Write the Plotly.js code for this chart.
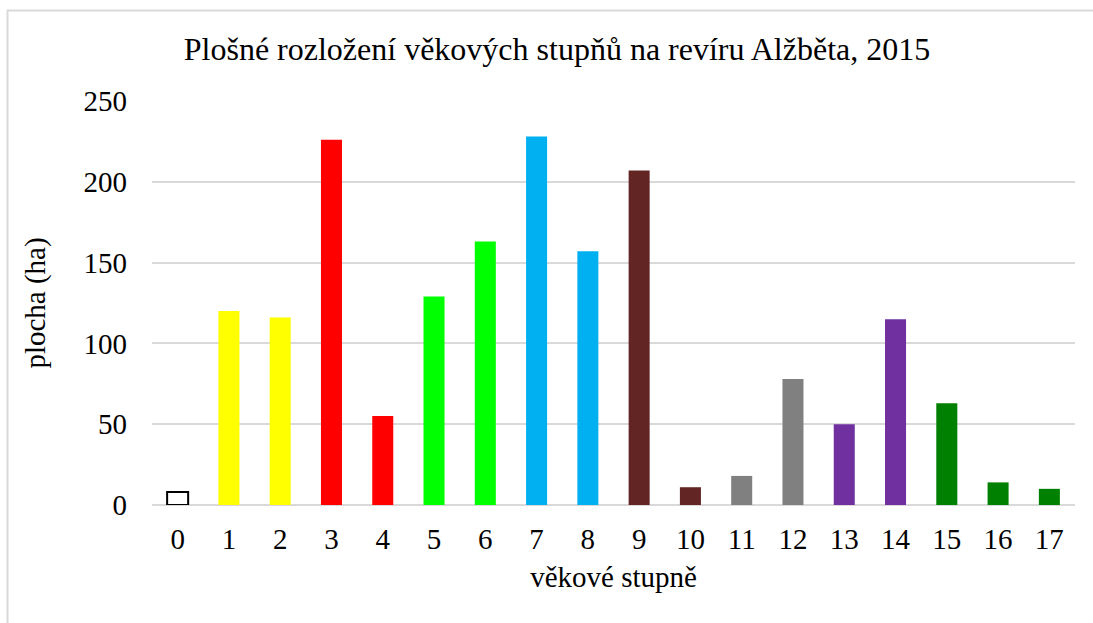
<!DOCTYPE html>
<html>
<head>
<meta charset="utf-8">
<script src="https://cdn.plot.ly/plotly-3.0.1.min.js"></script>
<style>html,body{margin:0;padding:0;background:#fff;}#chart{width:1093px;height:623px;}</style>
</head>
<body>
<div id="chart"></div>
<script>
const categories = ["0","1","2","3","4","5","6","7","8","9","10","11","12","13","14","15","16","17"];
const values = [8, 120, 116, 226, 55, 129, 163, 228, 157, 207, 11, 18, 78, 50, 115, 63, 14, 10];
const barColors = ["#FFFFFF","#FFFF00","#FFFF00","#FF0000","#FF0000","#00FF00","#00FF00","#00B0F0","#00B0F0","#632523","#632523","#808080","#808080","#7030A0","#7030A0","#008000","#008000","#008000"];
const outlineColors = ["#000000","#FFFF00","#FFFF00","#FF0000","#FF0000","#00FF00","#00FF00","#00B0F0","#00B0F0","#632523","#632523","#808080","#808080","#7030A0","#7030A0","#008000","#008000","#008000"];
const outlineWidths = [2,0,0,0,0,0,0,0,0,0,0,0,0,0,0,0,0,0];
const titleText = "Plošné rozložení věkových stupňů na revíru Alžběta, 2015";
const xTitle = "věkové stupně";
const yTitle = "plocha (ha)";

const font = "Liberation Serif";

const trace = {
  type: "bar",
  x: categories,
  y: values,
  marker: {color: barColors, line: {color: outlineColors, width: outlineWidths}},
  hoverinfo: "x+y"
};

const ml = 152, mr = 18, mt = 101, mb = 118;
const pw = 1093 - ml - mr, ph = 623 - mt - mb;

const layout = {
  width: 1093, height: 623,
  margin: {l: ml, r: mr, t: mt, b: mb, pad: 0},
  paper_bgcolor: "#ffffff",
  plot_bgcolor: "#ffffff",
  font: {family: font, color: "#000000", size: 29},
  showlegend: false,
  bargap: 0.59,
  title: {text: titleText, font: {family: font, size: 32, color: "#000"}, x: 0.5096, xanchor: "center", y: 0.921, yanchor: "middle"},
  xaxis: {
    type: "category",
    title: {text: xTitle, font: {family: font, size: 29}, standoff: 12},
    tickfont: {family: font, size: 29},
    showgrid: false, showline: false, zeroline: false,
    ticks: "", ticklabelstandoff: 14
  },
  yaxis: {
    range: [0, 250], dtick: 50, tick0: 0,
    title: {text: yTitle, font: {family: font, size: 29}, standoff: 29},
    tickfont: {family: font, size: 29},
    showgrid: true, gridcolor: "#d9d9d9", gridwidth: 2,
    zeroline: true, zerolinecolor: "#d9d9d9", zerolinewidth: 2,
    showline: false, ticks: "", ticklabelstandoff: 24
  },
  shapes: [{
    type: "rect", xref: "paper", yref: "paper",
    x0: (7.5 - ml) / pw, x1: 1.2,
    y0: -0.6, y1: (623 - mb - 10.5) / ph,
    line: {color: "#d9d9d9", width: 2}, fillcolor: "rgba(0,0,0,0)", layer: "below"
  }]
};

Plotly.newPlot("chart", [trace], layout, {displayModeBar: false, staticPlot: true});
</script>
</body>
</html>
